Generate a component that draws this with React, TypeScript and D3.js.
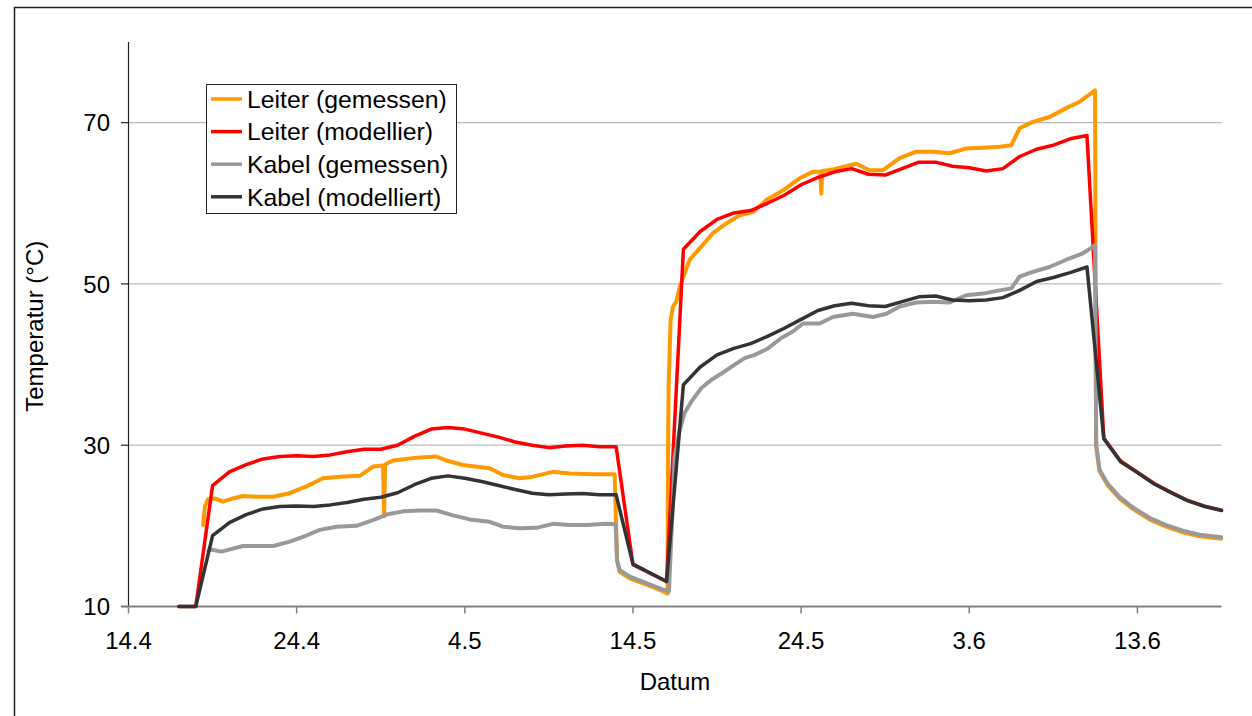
import React from "react";
import * as d3 from "d3";

// x values are days after 14.4
const tickDays = [0, 10, 20, 30, 40, 50, 60];
const tickLabels = ["14.4", "24.4", "4.5", "14.5", "24.5", "3.6", "13.6"];
const yTicks = [10, 30, 50, 70];
const gridValues = [30, 50, 70];

const seriesNames = ["Leiter (gemessen)", "Leiter (modellier)", "Kabel (gemessen)", "Kabel (modelliert)"];
const seriesColors = ["#FF9900", "#FF0000", "#999999", "#333333"];

const modelDays = [3, 4, 5, 6, 7, 8, 9, 10, 11, 12, 13, 14, 15, 16, 17, 18, 19, 20, 21, 22, 23, 24, 25, 26, 27, 28, 29, 30, 32,
  33, 34, 35, 36, 37, 38, 39, 40, 41, 42, 43, 44, 45, 46, 47, 48, 49, 50, 51, 52, 53, 54, 55, 56, 57, 58, 59, 60, 61, 62, 63, 64, 65];

const leiterModell = [10, 10, 25.0, 26.7, 27.6, 28.3, 28.6, 28.7, 28.6, 28.8, 29.2, 29.5, 29.5, 30.0, 31.1, 32.0, 32.2, 32.0, 31.5, 31.0, 30.4, 30.0, 29.7, 29.9, 30.0, 29.8, 29.8, 15.2, 13.1,
  54.3, 56.5, 58.0, 58.8, 59.1, 60.0, 61.0, 62.3, 63.2, 63.9, 64.3, 63.6, 63.5, 64.3, 65.1, 65.1, 64.6, 64.4, 64.0, 64.3, 65.8, 66.7, 67.2, 68.0, 68.4, 30.9, 28.05, 26.65, 25.25, 24.15, 23.15, 22.45, 21.95];

const kabelModell = [10, 10, 18.8, 20.4, 21.4, 22.1, 22.4, 22.45, 22.4, 22.6, 22.9, 23.3, 23.55, 24.1, 25.1, 25.9, 26.2, 25.9, 25.5, 25.0, 24.5, 24.05, 23.85, 23.95, 24.0, 23.85, 23.85, 15.25, 13.1,
  37.5, 39.7, 41.2, 42.0, 42.6, 43.5, 44.5, 45.6, 46.7, 47.3, 47.6, 47.3, 47.2, 47.8, 48.4, 48.5, 48.0, 47.9, 48.0, 48.3, 49.2, 50.3, 50.8, 51.4, 52.1, 30.8, 27.95, 26.6, 25.2, 24.1, 23.1, 22.4, 21.9];

const leiterGemessen: [number, number][] = [
  [4.44, 20.1], [4.54, 22.4], [4.73, 23.3], [5.13, 23.4], [5.62, 23.0], [6.2, 23.4], [6.81, 23.7], [7.69, 23.6], [8.6, 23.6],
  [9.59, 24.05], [10.58, 24.9], [11.57, 25.9], [12.56, 26.1], [13.75, 26.2], [14.54, 27.35], [15.14, 27.5], [15.2, 21.2],
  [15.26, 27.6], [15.73, 28.1], [16.92, 28.4], [18.31, 28.6], [18.91, 28.1], [19.89, 27.55], [21.48, 27.15], [22.27, 26.3],
  [23.26, 25.9], [24.05, 26.1], [25.24, 26.7], [26.24, 26.5], [27.62, 26.4], [28.91, 26.4], [29.06, 15.6], [29.21, 14.3],
  [29.81, 13.5], [30.8, 12.7], [31.78, 11.9], [32.06, 11.6], [32.08, 27.3], [32.12, 37.3], [32.24, 45.5], [32.38, 47.2],
  [32.58, 47.8], [32.78, 49.6], [33.07, 51.3], [33.37, 53.0], [33.97, 54.4], [34.76, 56.3], [35.55, 57.5], [36.34, 58.5],
  [37.13, 58.9], [37.93, 60.4], [38.92, 61.6], [39.91, 63.1], [40.7, 63.9], [41.14, 63.9], [41.2, 61.2], [41.26, 64.0],
  [41.89, 64.2], [43.28, 64.9], [44.07, 64.1], [44.86, 64.1], [45.86, 65.6], [46.85, 66.4], [47.84, 66.4], [48.83, 66.2],
  [49.82, 66.8], [50.81, 66.9], [51.8, 67.0], [52.5, 67.2], [52.99, 69.3], [53.78, 70.1], [54.77, 70.7], [55.77, 71.8],
  [56.56, 72.6], [57.35, 73.8], [57.48, 74.0], [57.54, 30.0], [57.74, 26.8], [58.24, 25.0], [58.93, 23.4], [59.72, 22.1],
  [60.71, 20.8], [61.71, 19.9], [62.7, 19.2], [63.69, 18.7], [64.98, 18.4],
];

const kabelGemessen: [number, number][] = [
  [4.77, 16.9], [4.83, 17.1], [5.53, 16.8], [6.81, 17.5], [8.6, 17.5], [9.59, 18.05], [10.58, 18.8], [11.37, 19.5],
  [12.37, 19.9], [13.56, 20.0], [14.54, 20.7], [15.34, 21.4], [16.33, 21.8], [17.32, 21.9], [18.31, 21.9], [19.3, 21.3],
  [20.29, 20.8], [21.48, 20.5], [22.27, 19.9], [23.26, 19.7], [24.26, 19.75], [25.24, 20.25], [26.24, 20.1], [27.23, 20.1],
  [28.42, 20.25], [28.97, 20.2], [29.05, 15.8], [29.21, 14.5], [29.81, 13.7], [30.8, 12.9], [31.78, 12.1], [32.14, 11.9],
  [32.38, 23.2], [32.48, 28.6], [32.78, 31.9], [33.07, 34.0], [33.47, 35.4], [34.07, 37.1], [34.66, 38.1], [35.26, 38.9],
  [36.05, 40.0], [36.64, 40.8], [37.24, 41.2], [38.03, 42.0], [38.82, 43.3], [39.51, 44.1], [40.11, 45.1], [41.1, 45.1],
  [41.89, 45.9], [43.08, 46.3], [44.27, 45.9], [45.07, 46.3], [45.86, 47.2], [46.85, 47.7], [47.84, 47.8], [48.83, 47.7],
  [49.82, 48.6], [50.81, 48.8], [51.8, 49.2], [52.5, 49.45], [52.99, 50.9], [53.78, 51.5], [54.77, 52.1], [55.77, 53.0],
  [56.75, 53.8], [57.35, 54.6], [57.48, 54.8], [57.55, 30.0], [57.74, 27.0], [58.24, 25.2], [58.93, 23.6], [59.72, 22.3],
  [60.71, 21.0], [61.71, 20.1], [62.7, 19.4], [63.69, 18.9], [64.98, 18.6],
];

const FONT = '"Liberation Sans", Arial, Helvetica, sans-serif';

export default function App() {
  const left = 128.5, right = 1221.5, top = 42, bottom = 606.5;
  const x = d3.scaleLinear().domain([0, 65]).range([left, right]);
  const y = d3.scaleLinear().domain([10, 80]).range([bottom, top]);

  const line = d3.line<[number, number]>().x((d) => x(d[0])).y((d) => y(d[1]));
  const modelPairs = (vals: number[]) => modelDays.map((d, i) => [d, vals[i]] as [number, number]);

  const series: { data: [number, number][]; color: string; w: number }[] = [
    { data: leiterGemessen, color: seriesColors[0], w: 4 },
    { data: modelPairs(leiterModell), color: seriesColors[1], w: 3.5 },
    { data: kabelGemessen, color: seriesColors[2], w: 4 },
    { data: modelPairs(kabelModell), color: seriesColors[3], w: 3.5 },
  ];

  const legendRows = [99, 131.6, 164.2, 196.8];

  return (
    <svg
      width={1252}
      height={716}
      style={{ position: "absolute", left: 0, top: 0, display: "block", background: "#fff" }}
      fontFamily={FONT}
    >
      <rect x={0} y={0} width={1252} height={716} fill="#fff" />
      <rect x={14.5} y={7.5} width={1300} height={800} fill="none" stroke="#222" strokeWidth={1.5} />

      {gridValues.map((v) => (
        <line key={"g" + v} x1={left} x2={right} y1={y(v)} y2={y(v)} stroke="#BBBBBB" strokeWidth={1.2} />
      ))}

      {/* y axis */}
      <line x1={left} x2={left} y1={top} y2={bottom} stroke="#222" strokeWidth={1.2} />
      {yTicks.map((v) => (
        <g key={"y" + v}>
          <line x1={121} x2={left} y1={y(v)} y2={y(v)} stroke="#222" strokeWidth={1.2} />
          <text x={110} y={y(v) + 8.6} textAnchor="end" fontSize={24} fill="#000">
            {v}
          </text>
        </g>
      ))}

      {/* x axis */}
      <line x1={left - 7} x2={right} y1={bottom} y2={bottom} stroke="#808080" strokeWidth={2} />
      {tickDays.map((d, i) => (
        <g key={"x" + d}>
          <line x1={x(d)} x2={x(d)} y1={bottom} y2={bottom + 7} stroke="#808080" strokeWidth={1.5} />
          <text x={x(d)} y={649} textAnchor="middle" fontSize={24} fill="#000">
            {tickLabels[i]}
          </text>
        </g>
      ))}

      <text x={675} y={689.5} textAnchor="middle" fontSize={24} fill="#000">
        Datum
      </text>
      <text transform={`translate(43,${(top + bottom) / 2 + 2}) rotate(-90)`} textAnchor="middle" fontSize={24} fill="#000">
        Temperatur (°C)
      </text>

      {series.map((s, i) => (
        <path key={"s" + i} d={line(s.data) || ""} fill="none" stroke={s.color} strokeWidth={s.w} strokeLinejoin="round" strokeLinecap="round" />
      ))}

      {/* legend */}
      <rect x={206.5} y={84.5} width={250} height={129} fill="#fff" stroke="#222" strokeWidth={1} />
      {seriesNames.map((n, i) => (
        <g key={"l" + i}>
          <line x1={211} x2={242} y1={legendRows[i]} y2={legendRows[i]} stroke={seriesColors[i]} strokeWidth={3.5} />
          <text x={247} y={legendRows[i] + 8.8} fontSize={24.8} fill="#000">
            {n}
          </text>
        </g>
      ))}
    </svg>
  );
}
